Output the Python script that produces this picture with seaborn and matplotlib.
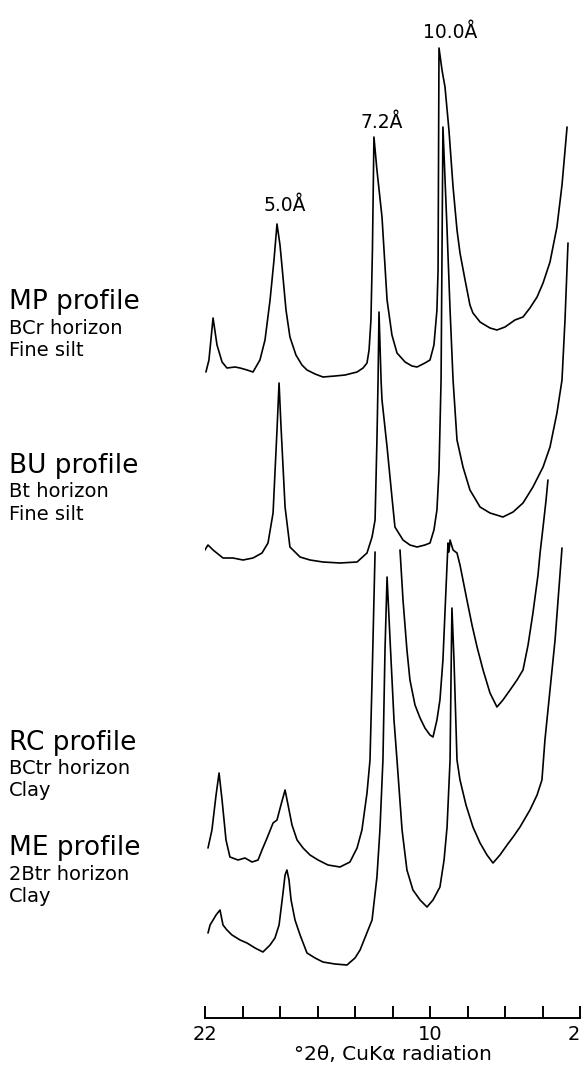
import numpy as np
import pandas as pd
import matplotlib
matplotlib.use("Agg")
import matplotlib.pyplot as plt
import seaborn as sns

# ---------------------------------------------------------------- data
# 2theta (deg, CuKa) and intensity above each trace's own baseline
# nan marks where the pen went off scale
mp_2theta = [21.95, 21.79, 21.57, 21.36, 21.09, 20.83, 20.40, 20.13, 19.76, 19.44,
             19.07, 18.80, 18.53, 18.32, 18.16, 18.00, 17.89, 17.68, 17.47, 17.15,
             16.83, 16.56, 16.13, 15.71, 15.07, 14.53, 13.89, 13.57, 13.36, 13.25,
             13.15, 13.07, 12.99, 12.83, 12.56, 12.29, 12.03, 11.76, 11.33, 10.96,
             10.69, 10.27, 10.00, 9.79, 9.63, 9.57, 9.52, 9.36, 9.20, 8.99,
             8.77, 8.56, 8.40, 8.13, 7.87, 7.71, 7.33, 7.07, 6.80, 6.43,
             6.00, 5.47, 5.04, 4.67, 4.29, 3.97, 3.60, 3.23, 2.96, 2.69]
mp_int = [8, 20, 62, 35, 18, 12, 13, 12, 10, 8,
          20, 40, 80, 120, 156, 135, 113, 70, 43, 25,
          15, 10, 6, 3, 4, 5, 8, 12, 17, 30,
          60, 130, 243, 210, 163, 80, 45, 27, 18, 14,
          13, 17, 20, 35, 70, 110, 332, 310, 293, 250,
          193, 150, 127, 100, 75, 67, 58, 55, 52, 50,
          53, 60, 63, 72, 83, 97, 118, 153, 195, 253]

bu_2theta = [22.11, 21.84, 21.57, 21.04, 20.51, 19.97, 19.44, 18.96, 18.64, 18.37,
             18.16, 18.05, 17.95, 17.73, 17.47, 16.93, 16.40, 15.71, 14.80, 13.89,
             13.36, 13.09, 12.93, 12.83, 12.77, 12.72, 12.61, 12.56, 12.29, 12.03,
             11.87, 11.44, 11.07, 10.69, 10.27, 10.00, 9.79, 9.63, 9.52, 9.41,
             9.31, 9.09, 8.93, 8.77, 8.56, 8.24, 7.87, 7.33, 6.80, 6.11,
             5.57, 5.04, 4.51, 3.97, 3.60, 3.23, 2.96, 2.80, 2.64]
bu_int = [12, 20, 15, 7, 7, 5, 7, 12, 22, 52,
          135, 182, 140, 58, 18, 8, 5, 3, 2, 3,
          12, 28, 45, 125, 185, 253, 185, 165, 118, 68,
          38, 25, 20, 18, 20, 22, 35, 55, 95, 185,
          438, 335, 255, 185, 125, 98, 75, 58, 52, 48,
          53, 62, 78, 98, 118, 152, 185, 245, 322]

rc_2theta = [21.84, 21.63, 21.41, 21.25, 21.09, 20.88, 20.67, 20.24, 19.87, 19.49,
             19.17, 18.96, 18.69, 18.37, 18.16, 17.95, 17.73, 17.57, 17.36, 17.09,
             16.77, 16.40, 15.97, 15.44, 14.80, 14.27, 13.89, 13.63, 13.36, 13.20,
             13.09, 12.93, 12.30, 11.60, 11.44, 11.23, 11.07, 10.80, 10.53, 10.27,
             10.00, 9.84, 9.63, 9.47, 9.31, 9.15, 9.04, 8.99, 8.93, 8.77,
             8.56, 8.40, 8.03, 7.76, 7.49, 7.17, 6.80, 6.43, 6.11, 5.73,
             5.36, 5.04, 4.77, 4.51, 4.24, 4.13, 3.97, 3.81, 3.71]
rc_int = [22, 40, 75, 97, 70, 30, 13, 10, 12, 8,
          10, 20, 32, 47, 50, 65, 80, 65, 45, 30,
          22, 15, 10, 5, 3, 8, 22, 40, 77, 110,
          190, 318, np.nan, 320, 270, 220, 190, 165, 152, 142,
          135, 133, 150, 170, 210, 280, 327, 318, 330, 320,
          317, 305, 270, 245, 223, 200, 177, 163, 170, 180,
          190, 200, 225, 257, 295, 317, 343, 370, 390]

me_2theta = [21.84, 21.73, 21.57, 21.41, 21.20, 21.04, 20.83, 20.56, 20.13, 19.76,
             19.33, 18.91, 18.53, 18.27, 18.05, 17.84, 17.73, 17.63, 17.52, 17.41,
             17.20, 16.93, 16.56, 16.13, 15.71, 15.07, 14.43, 14.00, 13.73, 13.41,
             13.09, 12.83, 12.67, 12.51, 12.40, 12.29, 12.13, 11.92, 11.76, 11.49,
             11.23, 10.91, 10.53, 10.16, 9.84, 9.47, 9.25, 9.09, 8.93, 8.88,
             8.83, 8.72, 8.56, 8.40, 8.08, 7.71, 7.33, 6.96, 6.64, 6.27,
             5.89, 5.57, 5.20, 4.67, 4.29, 4.03, 3.87, 3.60, 3.33, 3.17, 2.96]
me_int = [37, 45, 50, 55, 60, 45, 40, 35, 30, 27,
          22, 18, 25, 32, 45, 77, 95, 100, 90, 70,
          50, 35, 17, 12, 8, 6, 5, 12, 20, 35,
          50, 93, 140, 210, 320, 393, 330, 250, 210, 140,
          100, 80, 70, 63, 70, 83, 110, 143, 210, 290,
          362, 310, 210, 190, 165, 143, 127, 115, 107, 115,
          125, 133, 143, 160, 175, 190, 230, 280, 330, 370, 422]

profiles = ["MP", "BU", "RC", "ME"]
horizons = ["BCr horizon", "Bt horizon", "BCtr horizon", "2Btr horizon"]
fractions = ["Fine silt", "Fine silt", "Clay", "Clay"]
stack_offset = [638, 453, 148, 48]

peak_labels = ["5.0Å", "7.2Å", "10.0Å"]
peak_2theta = [17.73, 12.56, 8.93]

tick_values = list(range(22, 1, -2))
tick_labels = ["22", "", "", "", "", "", "10", "", "", "", "2"]

# ---------------------------------------------------------------- frame
traces = [(mp_2theta, mp_int), (bu_2theta, bu_int), (rc_2theta, rc_int), (me_2theta, me_int)]
frames = []
for name, (tt, yy), off in zip(profiles, traces, stack_offset):
    d = pd.DataFrame({"two_theta": tt, "intensity": yy})
    d["segment"] = name + d["intensity"].isna().cumsum().astype(str)
    d = d.dropna()
    d["y"] = d["intensity"] + off
    frames.append(d)
df = pd.concat(frames, ignore_index=True)

# ---------------------------------------------------------------- plot
sns.set_style("white")
plt.rcParams["font.family"] = ["DejaVu Sans"]
plt.rcParams["text.color"] = "black"
plt.rcParams["xtick.color"] = "black"
plt.rcParams["axes.labelcolor"] = "black"

fig = plt.figure(figsize=(5.84, 10.72), dpi=100)
ax = fig.add_axes([205 / 584, 1 - 1018 / 1072, 375 / 584, 1018 / 1072])

sns.lineplot(data=df, x="two_theta", y="y", units="segment", estimator=None,
             color="black", linewidth=1.2, sort=False, ax=ax, legend=False)

ax.set_xlim(22, 2)
ax.set_ylim(0, 1018)
for side in ["top", "left", "right"]:
    ax.spines[side].set_visible(False)
ax.spines["bottom"].set_linewidth(1.4)
ax.spines["bottom"].set_color("black")
ax.set_yticks([])
ax.set_xticks(tick_values)
ax.set_xticklabels(tick_labels, fontsize=14)
# last label sits on the figure edge, keep it inside
ax.get_xticklabels()[-1].set_horizontalalignment("right")
ax.tick_params(axis="x", direction="in", length=9, width=1.4, pad=5, bottom=True)
ax.set_xlabel("°2θ, CuKα radiation", fontsize=14.5, labelpad=1)
ax.set_ylabel("")

label_y = [813, 896, 986]
for lab, xx, yy in zip(peak_labels, peak_2theta, label_y):
    ax.text(xx, yy, lab, ha="center", va="center", fontsize=13.5, clip_on=False)

label_top = [302, 466, 743, 848]
for name, hz, fr, ty in zip(profiles, horizons, fractions, label_top):
    fig.text(9 / 584, 1 - ty / 1072, f"{name} profile", fontsize=19, va="center")
    fig.text(9 / 584, 1 - (ty + 26) / 1072, hz, fontsize=14, va="center")
    fig.text(9 / 584, 1 - (ty + 48) / 1072, fr, fontsize=14, va="center")

fig.savefig("out.png", dpi=100)
